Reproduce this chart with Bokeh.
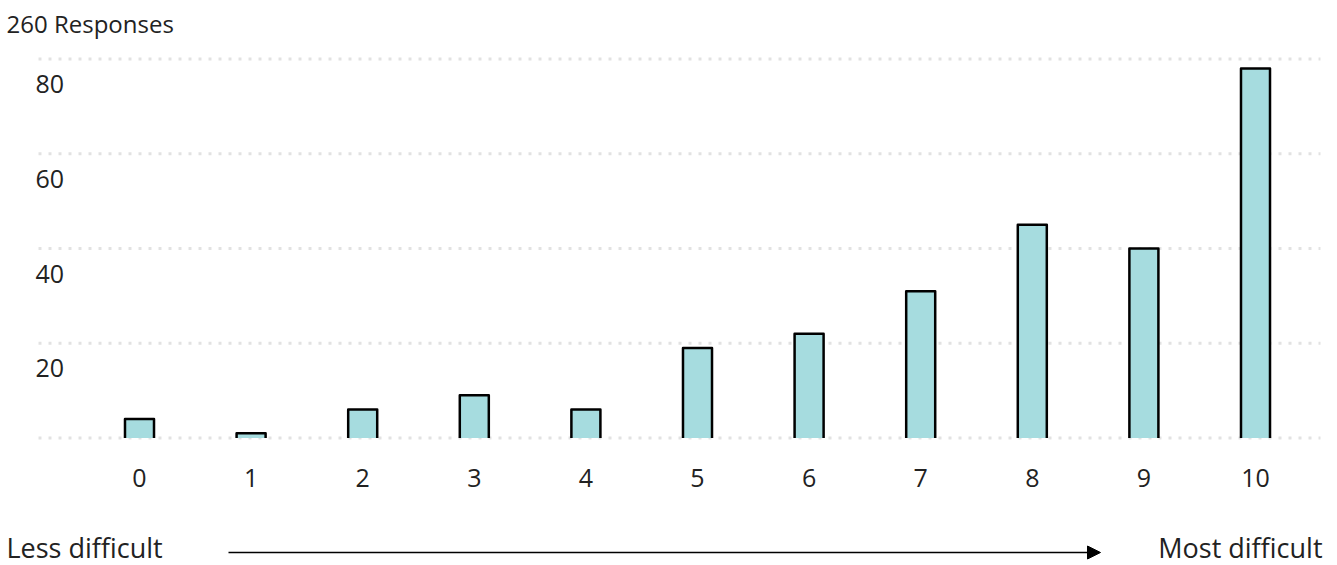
from bokeh.plotting import figure
from bokeh.models import Range1d, ColumnDataSource, Arrow, NormalHead
from bokeh.core.properties import value
from bokeh.embed import file_html
from bokeh.resources import INLINE

# Survey data: how difficult respondents rated the task (0-10)
ratings = [0, 1, 2, 3, 4, 5, 6, 7, 8, 9, 10]
counts = [4, 1, 6, 9, 6, 19, 22, 31, 45, 40, 78]
y_ticks = [0, 20, 40, 60, 80]
total_label = "260 Responses"
low_label = "Less difficult"
high_label = "Most difficult"

FONT = "Open Sans"
TEXT = "#222222"
BAR = "#a6dcdf"

W, H = 1337, 565
# layout: pixel position of category 0, spacing between categories,
# pixel row of the zero line and pixels per response
X0, DX = 139.0, 111.6
Y0, DY = 437.5, 4.7375


def px_x(px):
    return (px - X0) / DX


def px_y(py):
    return (Y0 - py) / DY


p = figure(width=W, height=H, output_backend="svg", toolbar_location=None,
           x_axis_type=None, y_axis_type=None, min_border=0,
           x_range=Range1d(px_x(0), px_x(W)), y_range=Range1d(px_y(H), px_y(0)))
p.outline_line_color = None
p.grid.visible = False
p.background_fill_color = "white"
p.border_fill_color = "white"

# dotted horizontal grid lines, behind the bars
gx0, gx1 = px_x(38), px_x(1320)
p.multi_line(xs=[[gx0, gx1] for _ in y_ticks], ys=[[t, t] for t in y_ticks],
             line_color="#e2e2e2", line_width=3, line_dash="3 7")

# bars: fill, then left/top/right outline (open at the base)
half = 0.13
src = ColumnDataSource(dict(x=ratings, top=counts))
p.vbar(x="x", top="top", bottom=0, width=2 * half, source=src,
       fill_color=BAR, line_color=None)
xs = [[r - half, r - half, r + half, r + half] for r in ratings]
ys = [[0, c, c, 0] for c in counts]
p.multi_line(xs=xs, ys=ys, line_color="black", line_width=2.5,
             line_join="round")

# y tick labels sit just below their grid line
p.text(x=[px_x(35)] * (len(y_ticks) - 1), y=y_ticks[1:],
       text=[str(t) for t in y_ticks[1:]], text_font=value(FONT),
       text_font_size="25px", text_color=TEXT, text_align="left",
       text_baseline="middle", y_offset=25)

# x tick labels
p.text(x=ratings, y=[0] * len(ratings), text=[str(r) for r in ratings],
       text_font=value(FONT), text_font_size="25px", text_color=TEXT,
       text_align="center", text_baseline="middle", y_offset=40)

# header
p.text(x=[px_x(6)], y=[px_y(23)], text=[total_label], text_font=value(FONT),
       text_font_size="24px", text_color=TEXT, text_align="left",
       text_baseline="middle")

# difficulty scale along the bottom
p.text(x=[px_x(6), px_x(1322)], y=[px_y(547), px_y(547)],
       text=[low_label, high_label], text_font=value(FONT),
       text_font_size="27px", text_color=TEXT,
       text_align=["left", "right"], text_baseline="middle")
p.add_layout(Arrow(x_start=px_x(228), y_start=px_y(552),
                   x_end=px_x(1100), y_end=px_y(552),
                   line_color="black", line_width=1.5,
                   end=NormalHead(size=13, fill_color="black",
                                  line_color="black", line_width=1)))

open("out.html", "w").write(file_html(p, INLINE))
